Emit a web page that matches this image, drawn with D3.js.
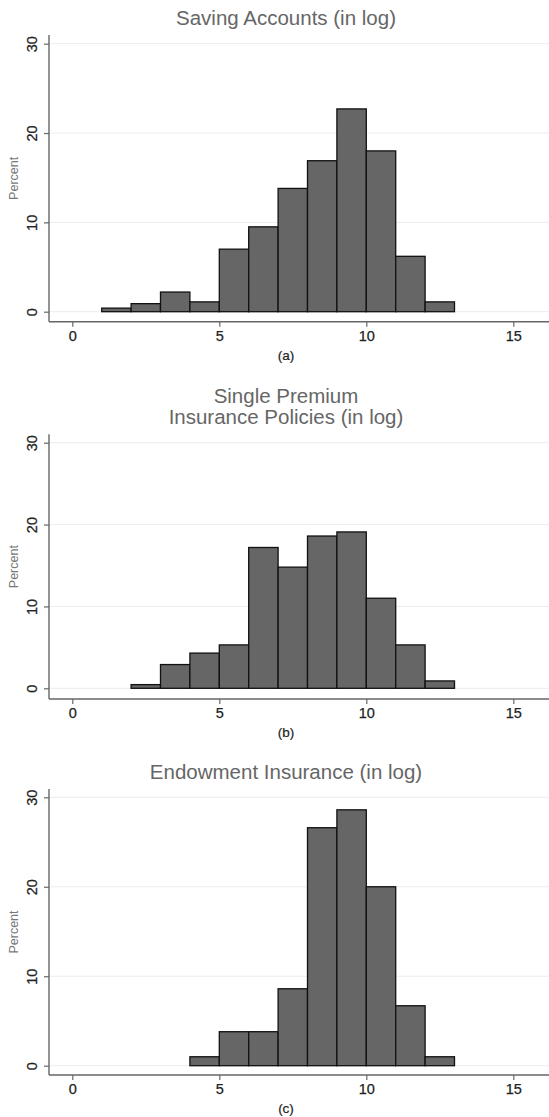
<!DOCTYPE html>
<html>
<head>
<meta charset="utf-8">
<script src="https://cdn.jsdelivr.net/npm/d3@7"></script>
<style>
  html, body { margin: 0; padding: 0; background: #fff; }
  svg { display: block; font-family: "Liberation Sans", Arial, Helvetica, sans-serif; }
</style>
</head>
<body>
<svg id="chart" width="549" height="1117"></svg>
<script>
// Histogram data: left edge of each unit-width bin and its percentage
const savingsBins = [1, 2, 3, 4, 5, 6, 7, 8, 9, 10, 11, 12];
const savingsPct  = [0.4, 0.9, 2.2, 1.1, 7.0, 9.5, 13.8, 16.9, 22.7, 18.0, 6.2, 1.1];

const singlePremiumBins = [2, 3, 4, 5, 6, 7, 8, 9, 10, 11, 12];
const singlePremiumPct  = [0.45, 2.9, 4.3, 5.3, 17.2, 14.8, 18.6, 19.1, 11.0, 5.3, 0.9];

const endowmentBins = [4, 5, 6, 7, 8, 9, 10, 11, 12];
const endowmentPct  = [1.0, 3.8, 3.8, 8.6, 26.6, 28.6, 20.0, 6.7, 1.0];

const binWidth = 1;
const xTicks = [0, 5, 10, 15];
const yTicks = [0, 10, 20, 30];

const panelTitles = [
  ["Saving Accounts (in log)"],
  ["Single Premium", "Insurance Policies (in log)"],
  ["Endowment Insurance (in log)"]
];
const panelLabels = ["(a)", "(b)", "(c)"];
const yLabel = "Percent";

// Layout of the three stacked panels (pixel positions only)
const panels = [
  { bins: savingsBins,       pct: savingsPct,       y0: 311.7,  y30: 43.7,  top: 35,    bottom: 321.7, titleY: [18] },
  { bins: singlePremiumBins, pct: singlePremiumPct, y0: 688.3,  y30: 442.7, top: 434.3, bottom: 699,   titleY: [396, 417.3] },
  { bins: endowmentBins,     pct: endowmentPct,     y0: 1065.7, y30: 797.3, top: 789,   bottom: 1075,  titleY: [771.7] }
];

const axisX = 49;
const rightEdge = 549;
const titleX = 286;

const svg = d3.select("#chart");
const x = d3.scaleLinear().domain([0, 15]).range([72.3, 513.3]);

panels.forEach((p, i) => {
  const y = d3.scaleLinear().domain([0, 30]).range([p.y0, p.y30]);
  const g = svg.append("g");

  // light horizontal grid
  g.selectAll("line.grid").data(yTicks).join("line")
    .attr("class", "grid")
    .attr("x1", axisX + 1).attr("x2", rightEdge)
    .attr("y1", d => y(d)).attr("y2", d => y(d))
    .attr("stroke", "#ececec").attr("stroke-width", 1);

  // bars
  const data = p.bins.map((b, k) => ({ x0: b, x1: b + binWidth, v: p.pct[k] }));
  g.selectAll("rect.bar").data(data).join("rect")
    .attr("class", "bar")
    .attr("x", d => x(d.x0))
    .attr("width", d => x(d.x1) - x(d.x0))
    .attr("y", d => y(d.v))
    .attr("height", d => y(0) - y(d.v))
    .attr("fill", "#666666")
    .attr("stroke", "#111")
    .attr("stroke-width", 1.3);

  // y axis
  const yAxis = g.append("g")
    .attr("transform", `translate(${axisX},0)`)
    .call(d3.axisLeft(y).tickValues(yTicks).tickSize(5).tickPadding(6).tickFormat(d3.format("d")));
  yAxis.select(".domain").remove();
  yAxis.selectAll(".tick line").attr("stroke", "#666").attr("stroke-width", 1.2);
  yAxis.selectAll(".tick text")
    .attr("transform", "rotate(-90)")
    .attr("x", 0).attr("y", -17.3)
    .attr("dy", "0.35em")
    .attr("text-anchor", "middle")
    .attr("font-size", 14.5)
    .attr("font-family", "Liberation Sans, Arial, sans-serif")
    .attr("fill", "#222")
    .attr("stroke", "#222").attr("stroke-width", 0.25);
  g.append("line")
    .attr("x1", axisX).attr("x2", axisX)
    .attr("y1", p.top).attr("y2", p.bottom)
    .attr("stroke", "#666").attr("stroke-width", 1.4);

  // x axis
  const xAxis = g.append("g")
    .attr("transform", `translate(0,${p.bottom})`)
    .call(d3.axisBottom(x).tickValues(xTicks).tickSize(5).tickPadding(4).tickFormat(d3.format("d")));
  xAxis.select(".domain").remove();
  xAxis.selectAll(".tick line").attr("stroke", "#666").attr("stroke-width", 1.2);
  xAxis.selectAll(".tick text")
    .attr("font-size", 14.5)
    .attr("font-family", "Liberation Sans, Arial, sans-serif")
    .attr("fill", "#222")
    .attr("stroke", "#222").attr("stroke-width", 0.25);
  g.append("line")
    .attr("x1", axisX).attr("x2", rightEdge)
    .attr("y1", p.bottom).attr("y2", p.bottom)
    .attr("stroke", "#666").attr("stroke-width", 1.4);

  // y axis title
  const midY = (p.top + p.bottom) / 2;
  g.append("text")
    .attr("transform", `translate(13.5,${midY}) rotate(-90)`)
    .attr("text-anchor", "middle")
    .attr("dy", "0.35em")
    .attr("font-size", 12.5)
    .attr("fill", "#777")
    .text(yLabel);

  // panel title
  panelTitles[i].forEach((line, k) => {
    g.append("text")
      .attr("x", titleX).attr("y", p.titleY[k])
      .attr("dy", "0.35em")
      .attr("text-anchor", "middle")
      .attr("font-size", 20.5)
      .attr("fill", "#666")
      .text(line);
  });

  // sub-figure label
  g.append("text")
    .attr("x", titleX).attr("y", p.bottom + 33.5)
    .attr("dy", "0.35em")
    .attr("text-anchor", "middle")
    .attr("font-size", 13.5)
    .attr("fill", "#222")
    .attr("stroke", "#222").attr("stroke-width", 0.2)
    .text(panelLabels[i]);
});
</script>
</body>
</html>
